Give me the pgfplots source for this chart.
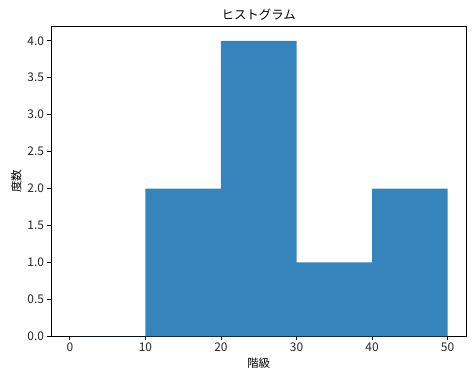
\documentclass[border=0pt]{standalone}
\usepackage{pgfplots}
\pgfplotsset{compat=1.18}
\usepackage{fontspec}
\setmainfont{Noto Sans CJK JP}
\definecolor{barblue}{RGB}{53,133,188}
\begin{document}
\begin{tikzpicture}
\begin{axis}[
  scale only axis,
  width=415.7bp, height=310.5bp,
  xmin=-2.5, xmax=52.5, ymin=0, ymax=4.2,
  xtick={0,10,20,30,40,50},
  ytick={0,0.5,1,1.5,2,2.5,3,3.5,4},
  yticklabel style={/pgf/number format/.cd,fixed,fixed zerofill,precision=1},
  /pgf/number format/assume math mode=true,
  tick pos=left, tick align=outside,
  major tick length=3.5bp,
  every tick/.style={black, line width=0.8bp},
  axis line style={line width=0.8bp},
  ticklabel style={font=\fontsize{12}{13}\selectfont, text=black!85},
  xticklabel style={yshift=1bp},
  title={ヒストグラム},
  title style={font=\fontsize{12.5}{14}\selectfont, yshift=-3.5bp},
  xlabel={階級}, ylabel={度数},
  label style={font=\fontsize{11.5}{13}\selectfont},
  xlabel style={yshift=0bp},
  ylabel style={yshift=-1bp},
]
\addplot[ybar interval, fill=barblue, draw=none] coordinates {(0,0) (10,2) (20,4) (30,1) (40,2) (50,2)};
\end{axis}
\path[use as bounding box] ([xshift=-51bp,yshift=-42.5bp]current axis.south west) rectangle ([xshift=7.5bp,yshift=26bp]current axis.north east);
\end{tikzpicture}
\end{document}
